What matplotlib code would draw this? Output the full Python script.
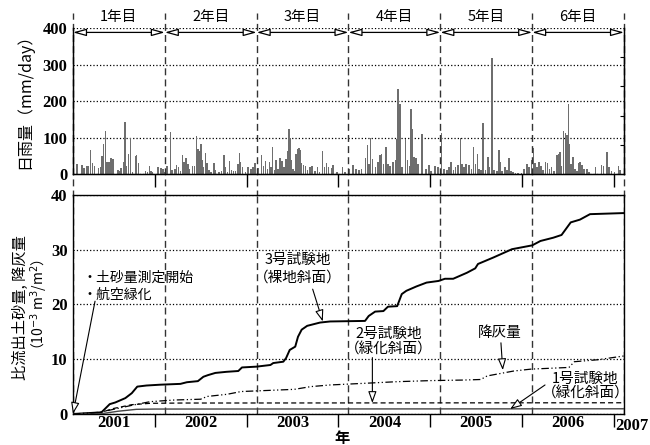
import matplotlib.pyplot as plt
import matplotlib.transforms as mtransforms

plt.rcParams['font.family'] = ['Noto Sans CJK JP', 'DejaVu Sans']
plt.rcParams['mathtext.fontset'] = 'dejavusans'

# observation start (decimal year); each study year runs from T0+k to T0+k+1
T0 = 2001.11
study_years = ['1年目', '2年目', '3年目', '4年目', '5年目', '6年目']

# daily rainfall: days since T0, mm/day
rain_day = [17, 36, 44, 54, 60, 69, 78, 86, 102, 110, 115, 121, 130, 135, 144, 152, 158,
            178, 184, 191, 202, 207, 213, 221, 229, 237, 248, 253, 260, 288, 296, 304, 310,
            317, 339, 349, 359,
            361, 373, 387, 394, 405, 412, 420, 428, 436, 442, 450, 458, 463, 476, 484, 492,
            497, 503, 508, 513, 519, 527, 532, 540, 548, 560, 566, 580, 590, 601, 607, 614,
            622, 630, 638, 646, 656, 662, 667, 675, 686, 696, 707, 715, 725, 736,
            749, 757, 765, 773, 781, 787, 794, 802, 808, 816, 824, 832, 840, 848, 853, 858,
            863, 869, 874, 882, 887, 893, 898, 903, 909, 917, 924, 932, 943, 951, 962, 972,
            980, 993, 1001, 1009, 1017, 1028, 1033, 1049, 1072, 1081,
            1100, 1113, 1126, 1137, 1147, 1163, 1171, 1177, 1184, 1192, 1203, 1214, 1222,
            1227, 1235, 1245, 1253, 1261, 1272, 1283, 1288, 1293, 1301, 1309, 1322, 1330,
            1338, 1344, 1349, 1357, 1365, 1373, 1389, 1405, 1415, 1423, 1439, 1452, 1466,
            1476, 1487, 1495, 1503, 1513, 1521, 1532, 1542, 1548, 1556, 1564, 1574, 1585,
            1593, 1601, 1609, 1614, 1622, 1630, 1641, 1651, 1657, 1666, 1675, 1686, 1694,
            1699, 1707, 1718, 1726, 1733, 1741, 1749, 1760, 1771, 1784, 1794, 1805, 1813,
            1824, 1832,
            1837, 1845, 1853, 1861, 1869, 1879, 1887, 1895, 1903, 1914, 1924, 1932, 1938,
            1943, 1951, 1959, 1964, 1970, 1975, 1980, 1988, 1996, 2004, 2012, 2017, 2025,
            2033, 2044, 2052, 2078, 2102, 2110, 2123, 2131, 2142, 2153, 2170, 2176]
rain_mm = [28, 26, 16, 21, 23, 65, 31, 23, 16, 20, 49, 81, 118, 32, 34, 45, 42,
           12, 9, 16, 34, 143, 23, 56, 100, 6, 49, 51, 31, 9, 6, 23, 9,
           6, 18, 16, 14,
           6, 22, 116, 12, 14, 25, 18, 9, 51, 34, 45, 27, 14, 21, 23, 103,
           69, 62, 83, 37, 18, 58, 31, 12, 6, 30, 12, 6, 9, 51, 18, 6,
           36, 12, 9, 9, 27, 58, 34, 19, 6, 18, 14, 19, 30, 16,
           51, 23, 36, 14, 32, 18, 74, 12, 38, 14, 44, 36, 18, 40, 64, 123,
           99, 38, 14, 9, 55, 69, 71, 65, 30, 25, 23, 12, 19, 23, 9, 18,
           6, 62, 18, 31, 19, 16, 25, 6, 18, 6,
           15, 24, 15, 12, 15, 44, 79, 28, 100, 42, 19, 33, 51,
           56, 28, 74, 27, 22, 33, 39, 97, 232, 191, 19, 97, 38,
           21, 179, 124, 47, 45, 28, 109, 15, 24, 8, 23, 19, 112,
           15, 10, 19, 33, 12, 19, 24, 100, 28, 19, 28, 24, 15,
           74, 28, 54, 15, 12, 141, 12, 47, 19, 319, 12, 8, 65,
           33, 8, 19, 10, 44, 8, 5, 4, 4, 4, 15, 28, 19,
           38, 70,
           31, 19, 34, 23, 12, 32, 31, 14, 19, 9, 51, 56, 60,
           23, 119, 111, 106, 193, 83, 28, 46, 14, 9, 31, 34, 25,
           14, 14, 6, 19, 25, 21, 60, 19, 9, 6, 23, 12]

# cumulative specific sediment yield and ash fall (10^-3 m3/m2)
plot3_t = [2001.11, 2001.42, 2001.51, 2001.57, 2001.68, 2001.75, 2001.81, 2001.91, 2002.06,
           2002.28, 2002.35, 2002.47, 2002.53, 2002.58, 2002.66, 2002.78, 2002.91, 2002.95,
           2003.11, 2003.26, 2003.29, 2003.40, 2003.43, 2003.47, 2003.53, 2003.56, 2003.60,
           2003.66, 2003.80, 2003.91, 2004.29, 2004.33, 2004.40, 2004.49, 2004.54, 2004.64,
           2004.69, 2004.74, 2004.85, 2004.96, 2005.09, 2005.16, 2005.25, 2005.40, 2005.49,
           2005.52, 2005.69, 2005.89, 2006.11, 2006.20, 2006.34, 2006.43, 2006.53, 2006.63,
           2006.74, 2007.11]
plot3_v = [0, 0.3, 1.8, 2.1, 2.9, 3.8, 5.0, 5.2, 5.35,
           5.5, 5.8, 6.0, 6.8, 7.1, 7.5, 7.7, 7.85, 8.5,
           8.65, 8.95, 9.3, 9.55, 10.2, 11.7, 12.3, 14.1, 15.4,
           16.1, 16.7, 16.9, 17.0, 17.9, 18.7, 18.8, 19.6, 19.7,
           21.9, 22.5, 23.3, 24.0, 24.3, 24.7, 24.7, 25.8, 26.6,
           27.4, 28.6, 30.1, 30.8, 31.6, 32.2, 32.7, 35.0, 35.5,
           36.5, 36.7]

plot2_t = [2001.11, 2001.40, 2001.55, 2001.75, 2001.95, 2002.30, 2007.11]
plot2_v = [0, 0.2, 1.0, 1.7, 1.95, 2.0, 2.05]

plot1_t = [2001.11, 2001.40, 2001.60, 2001.80, 2002.00, 2007.11]
plot1_v = [0, 0.0, 0.5, 0.85, 0.9, 0.95]

ash_t = [2001.11, 2001.40, 2001.77, 2001.95, 2002.21, 2002.50, 2002.57, 2002.79, 2002.94,
         2003.23, 2003.52, 2003.70, 2003.91, 2004.28, 2004.64, 2005.01, 2005.37, 2005.55,
         2005.62, 2005.91, 2006.10, 2006.51, 2006.57, 2006.82, 2007.11]
ash_v = [0, 0.3, 1.65, 2.25, 2.55, 2.7, 3.2, 3.6, 4.1,
         4.3, 4.5, 5.0, 5.3, 5.6, 5.9, 6.1, 6.2, 6.3,
         6.95, 7.85, 8.2, 8.5, 9.55, 9.9, 10.6]

years = [2002, 2003, 2004, 2005, 2006, 2007]
year_label_pos = [(T0 + 2002) / 2, 2002.5, 2003.5, 2004.5, 2005.5, 2006.5]
year_labels = ['2001', '2002', '2003', '2004', '2005', '2006']

num_font = dict(family='Liberation Serif', weight='bold', size=12)
dash = (0, (5, 3))

fig = plt.figure(figsize=(6.5, 4.45), dpi=100)
ax_r = fig.add_axes([0.1123, 0.609, 0.8477, 0.328])
ax_s = fig.add_axes([0.1123, 0.0697, 0.8477, 0.4921])

bounds = [T0 + k for k in range(7)]

# --- daily rainfall ---
rain_x = [T0 + d / 365.25 for d in rain_day]
ax_r.bar(rain_x, rain_mm, width=0.017, color='#6e6e6e', linewidth=0, zorder=2)
ax_r.set_xlim(T0, T0 + 6)
ax_r.set_ylim(0, 400)
ax_r.set_yticks([0, 100, 200, 300, 400])
ax_r.set_yticklabels(['0', '100', '200', '300', '400'], fontdict=num_font)
ax_r.tick_params(axis='y', direction='in', length=0, pad=4)
ax_r.set_xticks(years)
ax_r.set_xticklabels([])
ax_r.tick_params(axis='x', direction='out', length=9.5, width=1.0)
ax_r.grid(axis='y', ls=':', color='k', lw=0.9)
ax_r.spines['top'].set_visible(False)
for s in ['left', 'right', 'bottom']:
    ax_r.spines[s].set_linewidth(1.0)

ax_rr = ax_r.twinx()
ax_rr.set_ylim(0, 5)
ax_rr.set_yticks([1, 2, 3, 4])
ax_rr.tick_params(direction='in', length=3, labelright=False)
ax_rr.spines['top'].set_visible(False)

trans_r = mtransforms.blended_transform_factory(ax_r.transData, ax_r.transAxes)
for b in bounds:
    ax_r.axvline(b, ymin=-0.16, ymax=1.10, ls=dash, color='#333333', lw=1.0, clip_on=False)
for k, name in enumerate(study_years):
    ax_r.text(T0 + k + 0.5, 1.075, name, transform=trans_r, ha='center', va='center',
              fontsize=10.5)
    ax_r.annotate('', xy=(bounds[k], 388), xytext=(bounds[k + 1], 388),
                  arrowprops=dict(arrowstyle='<|-|>,head_length=0.8,head_width=0.22',
                                  fc='white', ec='black', lw=0.9, shrinkA=0, shrinkB=0,
                                  mutation_scale=10))

# --- cumulative sediment and ash ---
ax_s.plot(plot3_t, plot3_v, color='k', lw=1.4, zorder=3)
ax_s.plot(plot2_t, plot2_v, color='k', lw=0.9, ls=(0, (4, 2.5)), zorder=3)
ax_s.plot(plot1_t, plot1_v, color='#444444', lw=1.0, zorder=3)
ax_s.plot(ash_t, ash_v, color='k', lw=0.9, ls=(0, (6, 2, 1, 2, 1, 2)), zorder=3)

ax_s.set_xlim(T0, T0 + 6)
ax_s.set_ylim(0, 40)
ax_s.set_yticks([0, 10, 20, 30, 40])
ax_s.set_yticklabels(['0', '10', '20', '30', '40'], fontdict=num_font)
ax_s.tick_params(axis='y', direction='in', length=0, pad=4)
ax_s.set_xticks(years)
ax_s.set_xticklabels([])
ax_s.tick_params(axis='x', which='major', direction='out', length=9.5, width=1.0)
ax_s.set_xticks(year_label_pos, minor=True)
ax_s.set_xticklabels(year_labels, minor=True, fontdict=num_font)
ax_s.tick_params(axis='x', which='minor', length=0, pad=1)
ax_s.text(2007.01, -0.8, '2007', ha='left', va='top', clip_on=False, **num_font)
ax_s.grid(axis='y', ls=':', color='k', lw=0.9)
for s in ax_s.spines.values():
    s.set_linewidth(1.0)
for b in bounds:
    ax_s.axvline(b, ls=dash, color='#333333', lw=1.0)

arrow_kw = dict(arrowstyle='-|>,head_length=0.7,head_width=0.25', fc='white', ec='black',
                lw=0.8, shrinkA=0, shrinkB=0, mutation_scale=10)
ax_s.text(2001.21, 24.9, '・土砂量測定開始', ha='left', va='center', fontsize=10)
ax_s.text(2001.21, 21.8, '・航空緑化', ha='left', va='center', fontsize=10)
ax_s.annotate('', xy=(T0, 0), xytext=(2001.35, 20.6), arrowprops=arrow_kw)

ax_s.text(2003.555, 28.2, '3号試験地', ha='center', va='center', fontsize=10.5)
ax_s.text(2003.555, 24.9, '（裸地斜面）', ha='center', va='center', fontsize=10.5)
ax_s.annotate('', xy=(2003.83, 16.9), xytext=(2003.72, 22.8), arrowprops=arrow_kw)

ax_s.text(2004.55, 14.6, '2号試験地', ha='center', va='center', fontsize=10.5)
ax_s.text(2004.55, 11.7, '（緑化斜面）', ha='center', va='center', fontsize=10.5)
ax_s.annotate('', xy=(2004.37, 2.0), xytext=(2004.37, 10.3), arrowprops=arrow_kw)

ax_s.text(2005.76, 14.8, '降灰量', ha='center', va='center', fontsize=10.5)
ax_s.annotate('', xy=(2005.79, 8.0), xytext=(2005.77, 13.0), arrowprops=arrow_kw)

ax_s.text(2006.69, 6.4, '1号試験地', ha='center', va='center', fontsize=10.5)
ax_s.text(2006.69, 3.8, '（緑化斜面）', ha='center', va='center', fontsize=10.5)
ax_s.annotate('', xy=(2005.87, 0.9), xytext=(2006.25, 5.3), arrowprops=arrow_kw)

# axis titles
fig.text(0.038, 0.782, '日雨量（mm/day）', rotation=90, ha='center', va='center', fontsize=11.5)
fig.text(0.032, 0.308, '比流出土砂量, 降灰量', rotation=90, ha='center', va='center',
         fontsize=11)
fig.text(0.060, 0.308, '（10$^{-3}$ m$^{3}$/m$^{2}$）', rotation=90, ha='center', va='center',
         fontsize=10)
fig.text(0.526, 0.016, '年', ha='center', va='center', fontsize=11, weight='bold')

fig.savefig('out.png', dpi=100)
